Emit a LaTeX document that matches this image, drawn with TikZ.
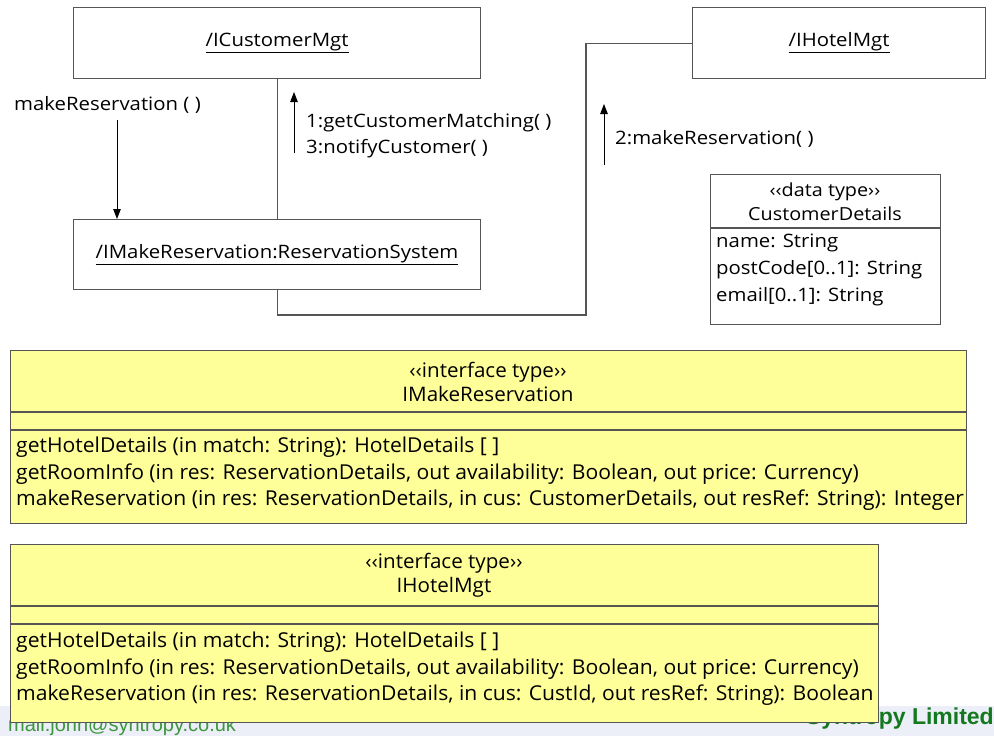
\documentclass[tikz,border=0pt]{standalone}
\usepackage{fontspec}
\setmainfont[FakeStretch=1.1]{Open Sans}
\newfontfamily\narrowfont[FakeStretch=1.03]{Open Sans}
\newfontfamily\footfont{Liberation Sans}
\usepackage{xcolor}
\usepackage{tikz}
\usetikzlibrary{arrows.meta, positioning, calc}

\definecolor{linegray}{RGB}{85,85,85}
\definecolor{ifyellow}{RGB}{255,255,153}
\definecolor{footband}{RGB}{236,239,247}
\definecolor{mailgreen}{RGB}{60,150,60}
\definecolor{syngreen}{RGB}{20,120,30}

\tikzset{
  objbox/.style={draw=linegray, line width=1.1pt, anchor=north west, inner sep=0pt,
    font=\fontsize{18.5}{20}\selectfont},
  ifbox/.style={objbox, fill=ifyellow},
  link/.style={draw=linegray, line width=1.1pt},
  msg/.style={line width=1pt, -{Triangle[length=10pt, width=7.5pt]}},
  msglabel/.style={anchor=west, inner sep=0pt, align=left, font=\fontsize{18.5}{26}\selectfont},
  ifop/.style={anchor=north west, inner sep=0pt, align=left, font=\narrowfont\fontsize{20.5}{26.5}\selectfont},
  iftitle/.style={inner sep=0pt, align=center, font=\narrowfont\fontsize{20}{24}\selectfont}
}

\begin{document}
\begin{tikzpicture}[x=1pt, y=-1pt]
  \useasboundingbox (0,0) rectangle (994,736);

  % footer behind the interface boxes
  \fill[footband] (0,706) rectangle (994,736);
  \node[anchor=west, inner sep=0pt, text=mailgreen, font=\footfont\fontsize{20}{21}\selectfont] (mail) at (8,726) {mail.john@syntropy.co.uk};
  \node[anchor=east, inner sep=0pt, text=syngreen, font=\footfont\bfseries\fontsize{23}{24}\selectfont] (company) at (994,719) {Syntropy Limited};

  % object boxes
  \node[objbox, minimum width=407pt, minimum height=71pt] (custmgt) at (73,7) {\underline{/ICustomerMgt}};
  \node[objbox, minimum width=407pt, minimum height=70pt] (resys) at (73,219) {\underline{/IMakeReservation:ReservationSystem}};
  \node[objbox, minimum width=293pt, minimum height=71pt] (hotelmgt) at (692,7) {\underline{/IHotelMgt}};

  % links
  \coordinate (bend) at (586,315);
  \draw[link] (custmgt.south) -- (resys.north);
  \draw[link] (resys.south) |- (bend) |- (hotelmgt.west);

  % messages
  \node[msglabel] (mrlabel) at (14,105) {makeReservation ( )};
  \coordinate (mrtop) at (117,120);
  \draw[msg] (mrtop) -- (mrtop |- resys.north);

  \coordinate (m1low) at (294,153);
  \coordinate (m1high) at (294,92);
  \draw[msg] (m1low) -- (m1high);
  \node[msglabel] (m1label) at (306,136) {1:getCustomerMatching( )\\3:notifyCustomer( )};

  \coordinate (m2low) at (604,165);
  \coordinate (m2high) at (604,104);
  \draw[msg] (m2low) -- (m2high);
  \node[msglabel] (m2label) at (615,139) {2:makeReservation( )};

  % data type
  \node[objbox, minimum width=230pt, minimum height=150pt] (custdet) at (710,174) {};
  \draw[link] (custdet.west |- 0,228) -- (custdet.east |- 0,228);
  \node[inner sep=0pt, align=center, font=\fontsize{18}{24}\selectfont] (cdtitle) at (825,202) {‹‹data type››\\CustomerDetails};
  \node[anchor=north west, inner sep=0pt, align=left, font=\fontsize{18.5}{27}\selectfont] (cdattr) at (716,234) {name: String\\postCode[0..1]: String\\email[0..1]: String};

  % interface IMakeReservation
  \node[ifbox, minimum width=956pt, minimum height=173pt] (ifmake) at (10,350) {};
  \draw[link] (ifmake.west |- 0,412) -- (ifmake.east |- 0,412);
  \draw[link] (ifmake.west |- 0,430) -- (ifmake.east |- 0,430);
  \node[iftitle] (ifmaketitle) at (488,382) {‹‹interface type››\\IMakeReservation};
  \node[ifop] (ifmakeops) at (16,437) {getHotelDetails (in match: String): HotelDetails [ ]\\
    getRoomInfo (in res: ReservationDetails, out availability: Boolean, out price: Currency)\\
    makeReservation (in res: ReservationDetails, in cus: CustomerDetails, out resRef: String): Integer};

  % interface IHotelMgt
  \node[ifbox, minimum width=868pt, minimum height=178pt] (ifhotel) at (10,544) {};
  \draw[link] (ifhotel.west |- 0,606) -- (ifhotel.east |- 0,606);
  \draw[link] (ifhotel.west |- 0,624) -- (ifhotel.east |- 0,624);
  \node[iftitle] (ifhoteltitle) at (444,575) {‹‹interface type››\\IHotelMgt};
  \node[ifop] (ifhotelops) at (16,632) {getHotelDetails (in match: String): HotelDetails [ ]\\
    getRoomInfo (in res: ReservationDetails, out availability: Boolean, out price: Currency)\\
    makeReservation (in res: ReservationDetails, in cus: CustId, out resRef: String): Boolean};
\end{tikzpicture}
\end{document}
